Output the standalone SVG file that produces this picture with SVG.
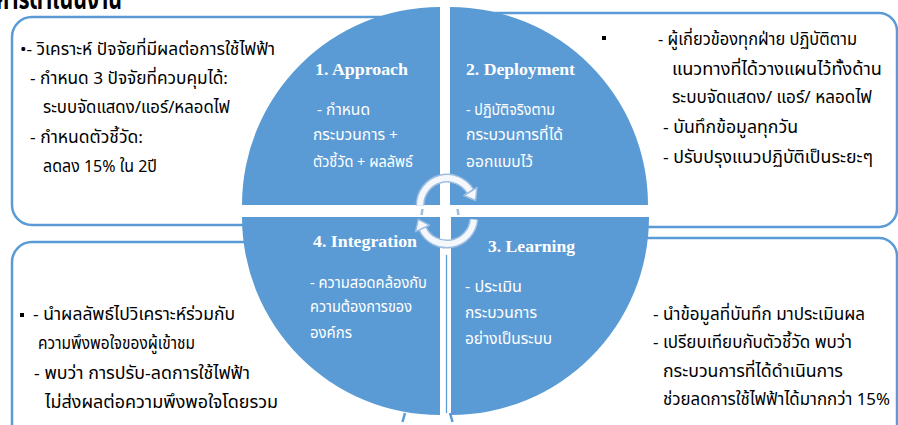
<svg xmlns="http://www.w3.org/2000/svg" width="898" height="425" viewBox="0 0 898 425">
<style>
.box{fill:#ffffff;stroke:#5b9bd5;stroke-width:2.5}
.q{fill:#5b9bd5}
.t{font-family:"Noto Sans Thai","Tahoma","DejaVu Sans",sans-serif;font-size:17px;fill:#000}
.w{font-family:"Noto Sans Thai","Tahoma","DejaVu Sans",sans-serif;font-size:15px;fill:#fff}
.h{font-family:"Liberation Serif","Times New Roman",serif;font-weight:bold;font-size:17px;fill:#fff}
.ttl{font-family:"Noto Sans Thai","Tahoma","DejaVu Sans",sans-serif;font-size:28px;font-weight:bold;fill:#000}
.arcO{fill:none;stroke:#9dbde0;stroke-width:9}
.arcI{fill:none;stroke:#f4f8fc;stroke-width:6}
.head{fill:#f4f8fc;stroke:#9dbde0;stroke-width:1.5;stroke-linejoin:round}
.tick{stroke:#9dbde0;stroke-width:2.5;fill:none}
.tickb{stroke:#5b9bd5;stroke-width:2.5;fill:none}
</style>
<rect width="898" height="425" fill="#ffffff"/>
<text class="ttl" x="-4" y="9" textLength="126" lengthAdjust="spacingAndGlyphs">การดำเนินงาน</text>

<g id="box-top-left">
<path class="box" d="M430 17 L32 17 A20 20 0 0 0 12 37 L12 205 A20 20 0 0 0 32 225 L430 225"/>
<text class="t" x="20" y="55" textLength="255" lengthAdjust="spacingAndGlyphs">•- วิเคราะห์ ปัจจัยที่มีผลต่อการใช้ไฟฟ้า</text>
<text class="t" x="30" y="84" textLength="198" lengthAdjust="spacingAndGlyphs">- กำหนด 3 ปัจจัยที่ควบคุมได้:</text>
<text class="t" x="43" y="113" textLength="187" lengthAdjust="spacingAndGlyphs">ระบบจัดแสดง/แอร์/หลอดไฟ</text>
<text class="t" x="30" y="143" textLength="113" lengthAdjust="spacingAndGlyphs">- กำหนดตัวชี้วัด:</text>
<text class="t" x="43" y="172" textLength="114" lengthAdjust="spacingAndGlyphs">ลดลง 15% ใน 2ปี</text>
</g>

<g id="box-top-right">
<path class="box" d="M460 13 L879 13 A18 18 0 0 1 897 31 L897 209 A18 18 0 0 1 879 227 L460 227"/>
<rect x="602" y="36" width="4" height="4" fill="#000"/>
<text class="t" x="658" y="45" textLength="199" lengthAdjust="spacingAndGlyphs">- ผู้เกี่ยวข้องทุกฝ่าย ปฏิบัติตาม</text>
<text class="t" x="672" y="75" textLength="210" lengthAdjust="spacingAndGlyphs">แนวทางที่ได้วางแผนไว้ทั้งด้าน</text>
<text class="t" x="672" y="103" textLength="200" lengthAdjust="spacingAndGlyphs">ระบบจัดแสดง/ แอร์/ หลอดไฟ</text>
<text class="t" x="663" y="133" textLength="135" lengthAdjust="spacingAndGlyphs">- บันทึกข้อมูลทุกวัน</text>
<text class="t" x="663" y="163" textLength="210" lengthAdjust="spacingAndGlyphs">- ปรับปรุงแนวปฏิบัติเป็นระยะๆ</text>
</g>

<g id="box-bottom-left">
<path class="box" d="M430 242 L32 242 A20 20 0 0 0 12 262 L12 440"/>
<rect x="20" y="313" width="4" height="4" fill="#000"/>
<text class="t" x="33" y="320" textLength="202" lengthAdjust="spacingAndGlyphs">- นำผลลัพธ์ไปวิเคราะห์ร่วมกับ</text>
<text class="t" x="38" y="349" textLength="157" lengthAdjust="spacingAndGlyphs">ความพึงพอใจของผู้เข้าชม</text>
<text class="t" x="34" y="379" textLength="216" lengthAdjust="spacingAndGlyphs">- พบว่า การปรับ-ลดการใช้ไฟฟ้า</text>
<text class="t" x="45" y="408" textLength="233" lengthAdjust="spacingAndGlyphs">ไม่ส่งผลต่อความพึงพอใจโดยรวม</text>
</g>

<g id="box-bottom-right">
<path class="box" d="M460 238 L879 238 A18 18 0 0 1 897 256 L897 440"/>
<text class="t" x="653" y="320" textLength="212" lengthAdjust="spacingAndGlyphs">- นำข้อมูลที่บันทึก มาประเมินผล</text>
<text class="t" x="653" y="348" textLength="199" lengthAdjust="spacingAndGlyphs">-  เปรียบเทียบกับตัวชี้วัด พบว่า</text>
<text class="t" x="663" y="377" textLength="180" lengthAdjust="spacingAndGlyphs">กระบวนการที่ได้ดำเนินการ</text>
<text class="t" x="663" y="405" textLength="227" lengthAdjust="spacingAndGlyphs">ช่วยลดการใช้ไฟฟ้าได้มากกว่า 15%</text>
</g>

<g id="approach">
<path class="q" d="M440 205 L242 205 A198 198 0 0 1 440 7 Z"/>
<text class="h" x="315" y="75" textLength="93" lengthAdjust="spacingAndGlyphs">1. Approach</text>
<text class="w" x="317" y="115" textLength="53" lengthAdjust="spacingAndGlyphs">- กำหนด</text>
<text class="w" x="313" y="140" textLength="85" lengthAdjust="spacingAndGlyphs">กระบวนการ +</text>
<text class="w" x="313" y="167" textLength="100" lengthAdjust="spacingAndGlyphs">ตัวชี้วัด + ผลลัพธ์</text>
</g>

<g id="deployment">
<path class="q" d="M450 205 L450 7 A198 198 0 0 1 648 205 Z"/>
<text class="h" x="466" y="75" textLength="109" lengthAdjust="spacingAndGlyphs">2. Deployment</text>
<text class="w" x="466" y="115" textLength="89" lengthAdjust="spacingAndGlyphs">- ปฏิบัติจริงตาม</text>
<text class="w" x="466" y="140" textLength="97" lengthAdjust="spacingAndGlyphs">กระบวนการที่ได้</text>
<text class="w" x="466" y="167" textLength="67" lengthAdjust="spacingAndGlyphs">ออกแบบไว้</text>
</g>

<g id="learning">
<path class="q" d="M451 217 L649 217 A198 198 0 0 1 451 415 Z"/>
<text class="h" x="488" y="252" textLength="87" lengthAdjust="spacingAndGlyphs">3. Learning</text>
<text class="w" x="465" y="292" textLength="57" lengthAdjust="spacingAndGlyphs">- ประเมิน</text>
<text class="w" x="465" y="318" textLength="72" lengthAdjust="spacingAndGlyphs">กระบวนการ</text>
<text class="w" x="465" y="344" textLength="87" lengthAdjust="spacingAndGlyphs">อย่างเป็นระบบ</text>
</g>

<g id="integration">
<path class="q" d="M440 217 L440 415 A198 198 0 0 1 242 217 Z"/>
<text class="h" x="313" y="247" textLength="104" lengthAdjust="spacingAndGlyphs">4. Integration</text>
<text class="w" x="310" y="288" textLength="117" lengthAdjust="spacingAndGlyphs">- ความสอดคล้องกับ</text>
<text class="w" x="310" y="312" textLength="102" lengthAdjust="spacingAndGlyphs">ความต้องการของ</text>
<text class="w" x="310" y="338" textLength="42" lengthAdjust="spacingAndGlyphs">องค์กร</text>
</g>

<g id="connectors">
<line x1="446.5" y1="255" x2="446.5" y2="413" stroke="#5b9bd5" stroke-width="1.3"/>
<path class="arcO" d="M420.1 205.5 A27 27 0 0 1 470.4 191.5"/>
<path class="arcI" d="M420.1 205.5 A27 27 0 0 1 470.4 191.5"/>
<polygon class="head" points="477,187.5 463.8,195.5 475.6,200.5"/>
<path class="arcO" d="M473.9 219.4 A27 27 0 0 1 422.5 228.4"/>
<path class="arcI" d="M473.9 219.4 A27 27 0 0 1 422.5 228.4"/>
<polygon class="head" points="429.4,225.2 415.6,231.6 418.3,219.3"/>
<path class="tick" d="M422.5 209 L421.5 215"/>
<path class="tick" d="M457.5 209 L458.5 215"/>
<path class="tickb" d="M405 413 L402.5 422"/>
<path class="tickb" d="M450 413 L452.5 422"/>
</g>
</svg>
